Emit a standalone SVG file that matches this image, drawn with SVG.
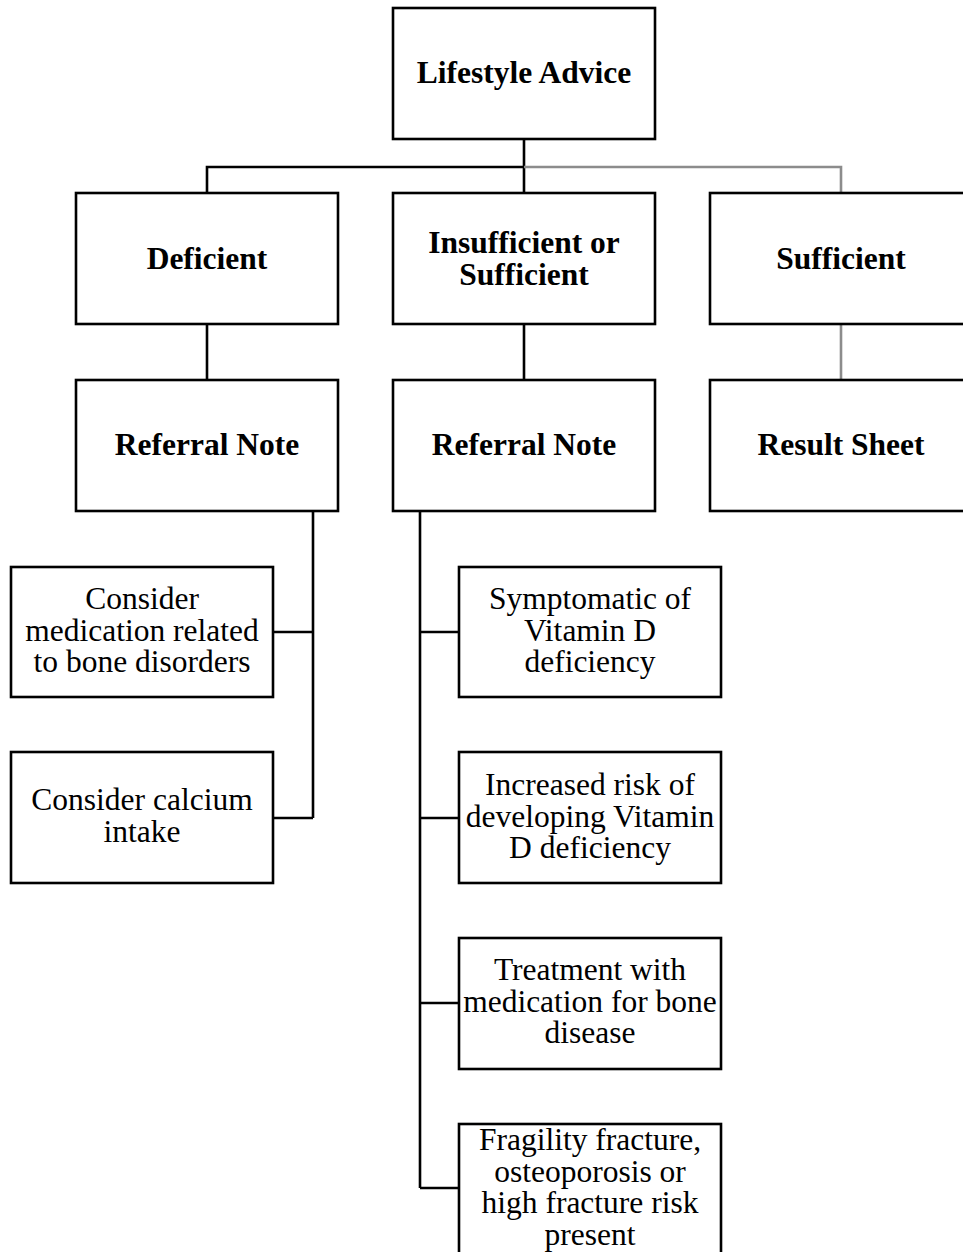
<svg xmlns="http://www.w3.org/2000/svg" width="963" height="1252" viewBox="0 0 963 1252">
<style>
.box{fill:#fff;stroke:#000;stroke-width:2.6}
.b{font-family:"Liberation Serif","Times New Roman",serif;font-weight:bold;font-size:31.5px;text-anchor:middle;fill:#000}
.t{font-family:"Liberation Serif","Times New Roman",serif;font-size:31.5px;text-anchor:middle;fill:#000}
.k{fill:none;stroke:#000;stroke-width:2.6}
.g{fill:none;stroke:#8c8c8c;stroke-width:2.6}
</style>
<rect width="963" height="1252" fill="#fff"/>
<g id="connectors">
<path class="k" d="M524 139V193M207 193V167H524M207 324V380M524 324V380"/>
<path class="g" d="M524 167H841V193M841 324V380"/>
<path class="k" d="M313 511V818M273 632H313M273 818H313"/>
<path class="k" d="M420 511V1188M420 632H459M420 818H459M420 1003H459M420 1188H459"/>
</g>
<g id="lifestyle"><rect class="box" x="393" y="8" width="262" height="131"/><text class="b" x="524" y="83">Lifestyle Advice</text></g>
<g id="deficient"><rect class="box" x="76" y="193" width="262" height="131"/><text class="b" x="207" y="269">Deficient</text></g>
<g id="insufficient"><rect class="box" x="393" y="193" width="262" height="131"/><text class="b" x="524" y="253">Insufficient or</text><text class="b" x="524" y="285">Sufficient</text></g>
<g id="sufficient"><rect class="box" x="710" y="193" width="262" height="131"/><text class="b" x="841" y="269">Sufficient</text></g>
<g id="referral1"><rect class="box" x="76" y="380" width="262" height="131"/><text class="b" x="207" y="455">Referral Note</text></g>
<g id="referral2"><rect class="box" x="393" y="380" width="262" height="131"/><text class="b" x="524" y="455">Referral Note</text></g>
<g id="result"><rect class="box" x="710" y="380" width="262" height="131"/><text class="b" x="841" y="455">Result Sheet</text></g>
<g id="medication"><rect class="box" x="11" y="567" width="262" height="130"/><text class="t" x="142" y="609">Consider</text><text class="t" x="142" y="641">medication related</text><text class="t" x="142" y="672">to bone disorders</text></g>
<g id="calcium"><rect class="box" x="11" y="752" width="262" height="131"/><text class="t" x="142" y="810">Consider calcium</text><text class="t" x="142" y="842">intake</text></g>
<g id="symptomatic"><rect class="box" x="459" y="567" width="262" height="130"/><text class="t" x="590" y="609">Symptomatic of</text><text class="t" x="590" y="641">Vitamin D</text><text class="t" x="590" y="672">deficiency</text></g>
<g id="risk"><rect class="box" x="459" y="752" width="262" height="131"/><text class="t" x="590" y="795">Increased risk of</text><text class="t" x="590" y="827">developing Vitamin</text><text class="t" x="590" y="858">D deficiency</text></g>
<g id="treatment"><rect class="box" x="459" y="938" width="262" height="131"/><text class="t" x="590" y="980">Treatment with</text><text class="t" x="590" y="1012">medication for bone</text><text class="t" x="590" y="1043">disease</text></g>
<g id="fragility"><rect class="box" x="459" y="1124" width="262" height="140"/><text class="t" x="590" y="1150">Fragility fracture,</text><text class="t" x="590" y="1182">osteoporosis or</text><text class="t" x="590" y="1213">high fracture risk</text><text class="t" x="590" y="1245">present</text></g>
</svg>
